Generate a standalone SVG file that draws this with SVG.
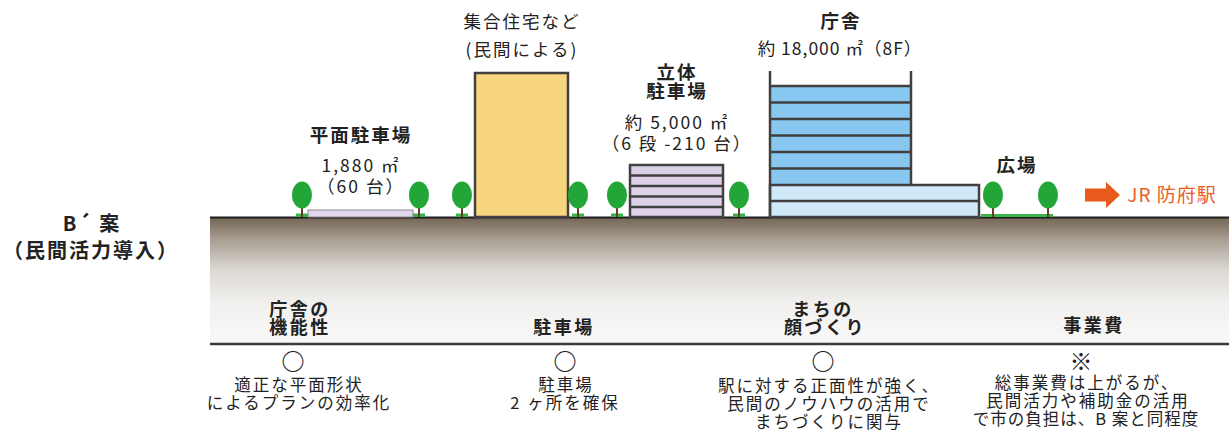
<svg xmlns="http://www.w3.org/2000/svg" width="1229" height="441" viewBox="0 0 1229 441">
  <defs>
    <linearGradient id="soil" x1="0" y1="0" x2="0" y2="1">
      <stop offset="0" stop-color="#726454"/>
      <stop offset="0.18" stop-color="#a99f93"/>
      <stop offset="0.42" stop-color="#dcd8d2"/>
      <stop offset="0.66" stop-color="#f0efed"/>
      <stop offset="1" stop-color="#f9f9f9"/>
    </linearGradient>
    <g id="tree">
      <line x1="0" y1="203" x2="0" y2="217" stroke="#6b3a28" stroke-width="2"/>
      <ellipse cx="0" cy="195" rx="10" ry="13.5" fill="#22a638"/>
    </g>
    <g id="tree-grass">
      <rect x="-6" y="213.5" width="12" height="3.5" fill="#3bb54a"/>
      <use href="#tree"/>
    </g>
  </defs>
  <style>
    text { font-family: "Noto Sans CJK JP", "Noto Sans", sans-serif; fill: #222; text-anchor: middle; }
    .title { font-weight: bold; font-size: 18.5px; letter-spacing: 2px; }
    .lbl { font-size: 17.5px; letter-spacing: 2px; }
    .head { font-weight: bold; font-size: 18px; letter-spacing: 2.5px; }
    .desc { font-size: 16.5px; letter-spacing: 2px; }
    .mark { font-size: 23px; }
    .wall { stroke: #404040; stroke-width: 2.5; }
  </style>

  <rect width="1229" height="441" fill="#ffffff"/>

  <!-- ground section and surface line -->
  <g id="ground">
    <rect x="210" y="217" width="1019" height="127" fill="url(#soil)"/>
    <line x1="210" y1="217.5" x2="1229" y2="217.5" stroke="#1e1e1e" stroke-width="2"/>
  </g>

  <!-- case title -->
  <g id="case-title">
    <text class="title" style="font-size:20px"><tspan x="92" y="231">B´ 案</tspan><tspan x="91" y="258">（民間活力導入）</tspan></text>
  </g>

  <!-- flat car park -->
  <g id="flat-parking">
    <rect x="308" y="210" width="105" height="7" fill="#e2d6ec" stroke="#8f8a94" stroke-width="1"/>
    <text class="title" x="361" y="142">平面駐車場</text>
    <text class="lbl"><tspan x="361" y="172">1,880 ㎡</tspan><tspan x="361" y="193">（60 台）</tspan></text>
  </g>

  <!-- private housing block -->
  <g id="housing">
    <rect x="475" y="73" width="93" height="144" fill="#f8d57f" class="wall"/>
    <text class="lbl"><tspan x="522" y="28">集合住宅など</tspan><tspan x="522" y="56">(民間による)</tspan></text>
  </g>

  <!-- multi-storey car park -->
  <g id="parking-structure">
    <rect x="630" y="165" width="93" height="52" fill="#ddd1e9" class="wall"/>
    <g class="wall">
      <line x1="630" y1="175.5" x2="723" y2="175.5"/>
      <line x1="630" y1="186" x2="723" y2="186"/>
      <line x1="630" y1="196.5" x2="723" y2="196.5"/>
      <line x1="630" y1="207" x2="723" y2="207"/>
    </g>
    <text class="title"><tspan x="677" y="79">立体</tspan><tspan x="677" y="98">駐車場</tspan></text>
    <text class="lbl"><tspan x="677" y="129">約 5,000 ㎡</tspan><tspan x="677" y="150">（6 段 -210 台）</tspan></text>
  </g>

  <!-- city hall -->
  <g id="city-hall">
    <rect x="770" y="86" width="141" height="99" fill="#88c8f0"/>
    <rect x="770" y="185" width="209" height="32" fill="#cfe9f8" class="wall"/>
    <g class="wall" fill="none">
      <line x1="770" y1="71" x2="770" y2="217"/>
      <line x1="911" y1="71" x2="911" y2="185"/>
      <line x1="770" y1="86" x2="911" y2="86"/>
      <line x1="770" y1="102.5" x2="911" y2="102.5"/>
      <line x1="770" y1="119" x2="911" y2="119"/>
      <line x1="770" y1="135.5" x2="911" y2="135.5"/>
      <line x1="770" y1="152" x2="911" y2="152"/>
      <line x1="770" y1="168.5" x2="911" y2="168.5"/>
      <line x1="770" y1="201" x2="979" y2="201"/>
    </g>
    <text class="title" x="841" y="28">庁舎</text>
    <text class="lbl" x="840" y="55" style="letter-spacing:1px">約 18,000 ㎡（8F）</text>
  </g>

  <!-- plaza -->
  <g id="plaza">
    <line x1="981" y1="215.5" x2="1053" y2="215.5" stroke="#3bb54a" stroke-width="3"/>
    <use href="#tree" x="993"/>
    <use href="#tree" x="1048"/>
    <text class="title" x="1017" y="172">広場</text>
  </g>

  <!-- street trees -->
  <g id="trees">
    <use href="#tree-grass" x="302"/>
    <use href="#tree-grass" x="419"/>
    <use href="#tree-grass" x="462"/>
    <use href="#tree-grass" x="578"/>
    <use href="#tree-grass" x="617"/>
    <use href="#tree-grass" x="739"/>
  </g>

  <!-- direction to the station -->
  <g id="connectors">
    <polygon points="1085,188.5 1106,188.5 1106,182 1120,195 1106,208 1106,201.5 1085,201.5" fill="#e85a1c"/>
  </g>
  <g id="station">
    <text x="1172" y="202" style="fill:#e8601e;font-size:19px;letter-spacing:1px">JR 防府駅</text>
  </g>

  <!-- evaluation table -->
  <g id="table-rule">
    <line x1="210" y1="344" x2="1229" y2="344" stroke="#3a3a3a" stroke-width="2.5"/>
  </g>

  <g id="col-function">
    <text class="head"><tspan x="300" y="316">庁舎の</tspan><tspan x="300" y="334">機能性</tspan></text>
    <text class="mark" x="293" y="370" font-weight="bold">○</text>
    <text class="desc"><tspan x="299" y="391">適正な平面形状</tspan><tspan x="299" y="409">によるプランの効率化</tspan></text>
  </g>

  <g id="col-parking">
    <text class="head" x="564" y="334">駐車場</text>
    <text class="mark" x="565" y="370" font-weight="bold">○</text>
    <text class="desc"><tspan x="566" y="391">駐車場</tspan><tspan x="565" y="409">2 ヶ所を確保</tspan></text>
  </g>

  <g id="col-townscape">
    <text class="head"><tspan x="823" y="316">まちの</tspan><tspan x="825" y="334">顔づくり</tspan></text>
    <text class="mark" x="823" y="370" font-weight="bold">○</text>
    <text class="desc"><tspan x="829" y="392">駅に対する正面性が強く、</tspan><tspan x="829" y="410">民間のノウハウの活用で</tspan><tspan x="829" y="428">まちづくりに関与</tspan></text>
  </g>

  <g id="col-cost">
    <text class="head" x="1094" y="332">事業費</text>
    <text class="mark" x="1081" y="370">※</text>
    <text class="desc"><tspan x="1087" y="389">総事業費は上がるが、</tspan><tspan x="1088" y="407">民間活力や補助金の活用</tspan><tspan x="1086" y="425" style="letter-spacing:1px">で市の負担は、B 案と同程度</tspan></text>
  </g>
</svg>
